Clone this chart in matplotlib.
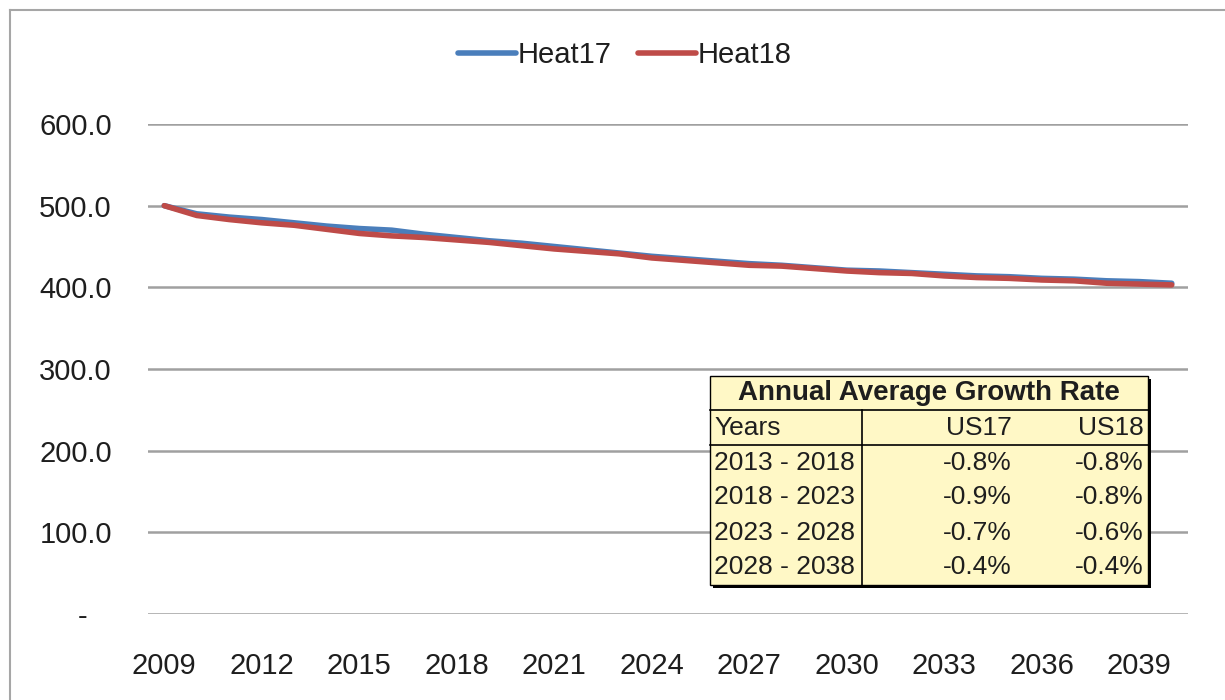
import matplotlib
matplotlib.use("Agg")
import matplotlib.pyplot as plt
from matplotlib.patches import Rectangle
from matplotlib.lines import Line2D

plt.rcParams['font.family'] = ['Liberation Sans', 'DejaVu Sans']

years = list(range(2009, 2041))
heat17 = [500, 490, 486, 483, 479, 475, 472, 470, 465, 461, 457, 454, 450, 446, 442, 438,
          435, 432, 429, 427, 424, 421, 420, 418, 416, 414, 413, 411, 410, 408, 407, 405]
heat18 = [500, 488, 483, 479, 476, 471, 466, 463, 461, 458, 455, 451, 447, 444, 441, 436,
          433, 430, 427, 426, 423, 420, 418, 417, 414, 412, 411, 409, 408, 405, 404, 403]
series_names = ["Heat17", "Heat18"]
yticks = [0, 100, 200, 300, 400, 500, 600]
xtick_years = list(range(2009, 2041, 3))

table_title = "Annual Average Growth Rate"
table_header = ["Years", "US17", "US18"]
table_periods = ["2013 - 2018", "2018 - 2023", "2023 - 2028", "2028 - 2038"]
table_us17 = ["-0.8%", "-0.9%", "-0.7%", "-0.4%"]
table_us18 = ["-0.8%", "-0.8%", "-0.6%", "-0.4%"]

W, H = 1225, 700
TXT = '#1e1e1e'
fig = plt.figure(figsize=(W / 100, H / 100), dpi=100)

def fx(x):
    return x / W

def fy(y):
    return 1 - y / H

# chart border (top and left visible)
fig.add_artist(Line2D([fx(10), fx(10)], [fy(10), fy(700)], color='#a6a6a6', lw=1.5))
fig.add_artist(Line2D([fx(10), fx(1225)], [fy(10), fy(10)], color='#a6a6a6', lw=1.5))

ax = fig.add_axes([fx(148), fy(614), fx(1188) - fx(148), fy(124) - fy(614)])
ax.set_xlim(2008.5, 2040.5)
ax.set_ylim(0, 600)
for s in ax.spines.values():
    s.set_visible(False)
ax.set_yticks(yticks)
ax.set_yticklabels([f"{v:.1f}" if v != 0 else "-   " for v in yticks])
ax.set_xticks(xtick_years)
ax.set_xticklabels([str(y) for y in xtick_years])
ax.tick_params(axis='both', length=0, labelsize=21, colors=TXT)
ax.tick_params(axis='y', pad=26)
ax.tick_params(axis='x', pad=27)
ax.yaxis.grid(True, color='#a0a0a0', lw=1.8)
ax.set_axisbelow(True)

l1, = ax.plot(years, heat17, color='#4a7ebb', lw=4.0, solid_capstyle='round', label=series_names[0])
l2, = ax.plot(years, heat18, color='#be4b48', lw=4.0, solid_capstyle='round', label=series_names[1])

fig.legend(handles=[l1, l2], loc='center', bbox_to_anchor=(fx(625), fy(55)), ncol=2,
           frameon=False, fontsize=21, handlelength=2.0, handletextpad=0.05,
           columnspacing=0.9, labelcolor=TXT)

# growth-rate table
x0, x1, x2 = 710, 862, 1148
ytop, ybot = 376, 585
row_h = [34, 35, 35, 35, 35, 35]
bg = '#fff8c6'
fig.add_artist(Rectangle((fx(x0 + 3), fy(ybot + 3)), fx(x2) - fx(x0), fy(ytop + 3) - fy(ybot + 3),
                         transform=fig.transFigure, facecolor='black', edgecolor='none', zorder=5))
fig.add_artist(Rectangle((fx(x0), fy(ybot)), fx(x2) - fx(x0), fy(ytop) - fy(ybot),
                         transform=fig.transFigure, facecolor=bg, edgecolor='black', lw=1.0, zorder=6))
ys = [ytop]
for h in row_h:
    ys.append(ys[-1] + h)
for yy in (ys[1], ys[2]):
    fig.add_artist(Line2D([fx(x0), fx(x2)], [fy(yy), fy(yy)], color='black', lw=1.2, zorder=7))
fig.add_artist(Line2D([fx(x1), fx(x1)], [fy(ys[1]), fy(ybot)], color='black', lw=1.2, zorder=7))

def cy(i):
    return fy((ys[i] + ys[i + 1]) / 2)

fs = 19
fig.text(fx((x0 + x2) / 2), cy(0), table_title, ha='center', va='center', fontsize=20,
         fontweight='bold', color=TXT, zorder=8)
fig.text(fx(x0 + 4), cy(1), table_header[0], ha='left', va='center', fontsize=fs, color=TXT, zorder=8)
fig.text(fx(1012), cy(1), table_header[1], ha='right', va='center', fontsize=fs, color=TXT, zorder=8)
fig.text(fx(1144), cy(1), table_header[2], ha='right', va='center', fontsize=fs, color=TXT, zorder=8)
for i, (p, a, b) in enumerate(zip(table_periods, table_us17, table_us18)):
    fig.text(fx(x0 + 4), cy(i + 2), p, ha='left', va='center', fontsize=fs, color=TXT, zorder=8)
    fig.text(fx(1012), cy(i + 2), a, ha='right', va='center', fontsize=fs, color=TXT, zorder=8)
    fig.text(fx(1144), cy(i + 2), b, ha='right', va='center', fontsize=fs, color=TXT, zorder=8)

fig.savefig("out.png", dpi=100)
